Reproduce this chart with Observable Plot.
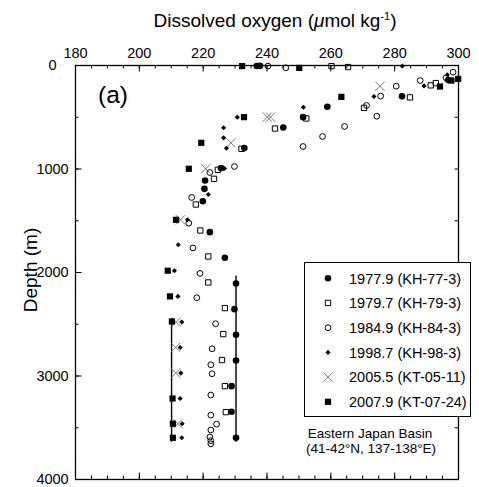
<!DOCTYPE html>
<html><head><meta charset="utf-8">
<script src="https://cdn.jsdelivr.net/npm/d3@7"></script>
<script src="https://cdn.jsdelivr.net/npm/@observablehq/plot@0.6"></script>
<style>
body{margin:0;background:#fff;}
#chart svg{display:block;}
</style></head><body><div id="chart"></div>
<script>
const FONT = '"Liberation Sans", Arial, Helvetica, sans-serif';

// ---- tick values ----
const o2Ticks = [180, 200, 220, 240, 260, 280, 300];
const o2Minor = d3.range(180, 301, 5);
const depthTicks = [0, 1000, 2000, 3000, 4000];
const depthMinor = d3.range(0, 4001, 500);

// ---- series: [O2 (umol/kg), depth (m)] ----
const kh77 = [[236.8,5],[237.8,4],[296.8,140],[282.3,298],[258.9,399],[251.3,499],[245.1,599],[232.9,798],[225.6,992],[220.6,1111],[220.4,1192],[219.9,1311],[222.1,1610],[226.8,1858],[230.3,2106],[229.8,2354],[230.3,2602],[230.3,2850],[228.9,3098],[228.9,3345],[230.3,3597]];
const kh79 = [[260.2,6],[265.4,15],[292.9,170],[291.3,192],[284.8,308],[270.4,409],[252.3,512],[242.5,609],[232,805],[224.6,1008],[223.4,1095],[217.7,1343],[219.1,1594],[221.6,1845],[221.6,2096],[226.8,2344],[226.3,2595],[225.9,2846],[226.8,3098],[227.1,3349]];
const kh84 = [[240.3,6],[245.9,22],[298.3,64],[296.1,119],[288,145],[280.5,200],[275.6,296],[271.2,386],[274.4,490],[264.3,589],[257.4,686],[251.3,783],[229.8,976],[222.1,1034],[216.4,1275],[215.5,1523],[216.8,1763],[219,2009],[218,2244],[223.9,2495],[222.8,2737],[222.4,2891],[222.8,2978],[222.4,3184],[222.4,3378],[224.2,3465],[222.4,3522],[222.1,3590],[222.4,3625],[222.4,3655]];
const kh98 = [[282.4,6],[296.5,90],[289.2,197],[273.5,300],[251.4,403],[230.7,499],[226.4,602],[226.4,699],[227.3,799],[226.7,995],[221.6,1246],[215.1,1491],[212.2,1732],[211,1983],[212.1,2231],[213.3,2479],[212.8,2724],[213,2972],[212.8,3217],[213.4,3461],[213.3,3597]];
const kt05 = [[275.4,200],[240.1,499],[241.1,499],[228.7,747],[220.8,998],[212.9,1491],[211.6,2479],[211.4,2724],[211.4,2972],[212.1,3461]];
const kt07 = [[232.2,6],[250.1,23],[299.9,129],[297.8,145],[294.2,203],[263.3,303],[232.8,499],[219.4,747],[215.5,998],[211.5,1491],[208.9,1983],[209.6,2231],[210.2,2473],[210.4,3217],[210.5,3461],[210.5,3597]];

// deep-layer mean lines
const meanO2 = [210.1, 230.3];
const meanTop = [2450, 2035];
const meanBottom = [3640, 3640];

const seriesNames = ["1977.9 (KH-77-3)", "1979.7 (KH-79-3)", "1984.9 (KH-84-3)", "1998.7 (KH-98-3)", "2005.5 (KT-05-11)", "2007.9 (KT-07-24)"];
const seriesData = [kh77, kh79, kh84, kh98, kt05, kt07];

// ---- styles ----
const styles = [
  {symbol: "circle", d3sym: d3.symbolCircle, r: 3.3, fill: "black", stroke: "none", sw: 0},
  {symbol: "square", d3sym: d3.symbolSquare, r: 3.0, fill: "none", stroke: "black", sw: 1},
  {symbol: "circle", d3sym: d3.symbolCircle, r: 2.9, fill: "none", stroke: "black", sw: 1},
  {symbol: "diamond2", d3sym: d3.symbolDiamond2, r: 2.3, fill: "black", stroke: "none", sw: 0},
  {symbol: "times", d3sym: d3.symbolTimes, r: 4.3, fill: "none", stroke: "#777", sw: 1},
  {symbol: "square", d3sym: d3.symbolSquare, r: 3.5, fill: "black", stroke: "none", sw: 0}
];
const drawOrder = [4, 2, 1, 3, 0, 5];

const W = 479, H = 487, mL = 75, mR = 21, mT = 65, mB = 8;
const pw = W - mL - mR, ph = H - mT - mB;

const means = meanO2.map((o, i) => ({o2: o, top: meanTop[i], bottom: meanBottom[i]}));

const marks = [
  Plot.ruleX(o2Minor, {x: d => d, insetBottom: ph - 3.5, strokeWidth: 1}),
  Plot.ruleX(o2Ticks, {x: d => d, insetBottom: ph - 6.5, strokeWidth: 1}),
  Plot.ruleX(o2Minor, {x: d => d, insetTop: ph - 3.5, strokeWidth: 1}),
  Plot.ruleX(o2Ticks, {x: d => d, insetTop: ph - 6.5, strokeWidth: 1}),
  Plot.ruleY(depthMinor, {y: d => d, insetRight: pw - 3.5, strokeWidth: 1}),
  Plot.ruleY(depthTicks, {y: d => d, insetRight: pw - 6.5, strokeWidth: 1}),
  Plot.ruleY(depthMinor, {y: d => d, insetLeft: pw - 3.5, strokeWidth: 1}),
  Plot.frame({stroke: "black", strokeWidth: 1.3}),
  Plot.text(o2Ticks, {x: d => d, text: d => String(d), frameAnchor: "top", dy: -7.3, lineAnchor: "bottom", fontSize: 14.5, fill: "black"}),
  Plot.text(depthTicks, {y: d => d, text: d => String(d), frameAnchor: "left", dx: -23, textAnchor: "middle", fontSize: 14.5, fill: "black"}),
  Plot.ruleX(means, {x: "o2", y1: "top", y2: "bottom", stroke: "black", strokeWidth: 1.4})
];
for (const i of drawOrder) {
  const s = styles[i];
  marks.push(Plot.dot(seriesData[i], {x: d => d[0], y: d => d[1], symbol: s.symbol, r: s.r, fill: s.fill, stroke: s.stroke, strokeWidth: s.sw}));
}

const plot = Plot.plot({
  width: W, height: H,
  marginLeft: mL, marginRight: mR, marginTop: mT, marginBottom: mB,
  x: {domain: [180, 300], axis: null},
  y: {domain: [0, 4000], reverse: true, axis: null},
  style: {fontFamily: FONT, background: "white", color: "black"},
  marks
});

const svg = d3.select(plot);
const deco = svg.append("g").attr("font-family", FONT).attr("fill", "black").attr("text-anchor", "start");

// title
const t = deco.append("text").attr("x", 275).attr("y", 27).attr("text-anchor", "middle").attr("font-size", 19);
t.append("tspan").text("Dissolved oxygen (");
t.append("tspan").attr("font-style", "italic").text("\u03bc");
t.append("tspan").text("mol kg");
t.append("tspan").attr("font-size", 11).attr("dy", -7).text("-1");
t.append("tspan").attr("dy", 7).text(")");

// y label
deco.append("text").attr("transform", "translate(30,270) rotate(-90)").attr("text-anchor", "middle")
  .attr("dominant-baseline", "central").attr("font-size", 19).text("Depth (m)");

// panel label
deco.append("text").attr("x", 98).attr("y", 103).attr("text-anchor", "start").attr("font-size", 24.5).text("(a)");

// legend
const lg = deco.append("g");
lg.append("rect").attr("x", 304.5).attr("y", 262.5).attr("width", 166).attr("height", 154)
  .attr("fill", "white").attr("stroke", "black").attr("stroke-width", 1);
seriesNames.forEach((name, i) => {
  const s = styles[i];
  const cy = 278.3 + i * 24.7;
  lg.append("path").attr("transform", `translate(328,${cy})`)
    .attr("d", d3.symbol(s.d3sym, Math.PI * s.r * s.r)())
    .attr("fill", s.fill).attr("stroke", s.stroke).attr("stroke-width", s.sw);
  lg.append("text").attr("x", 349).attr("y", cy + 5.2).attr("text-anchor", "start").attr("font-size", 14.5).text(name);
});

// region annotation
deco.append("text").attr("x", 370).attr("y", 438.3).attr("text-anchor", "middle").attr("font-size", 13.5).text("Eastern Japan Basin");
deco.append("text").attr("x", 371).attr("y", 452.8).attr("text-anchor", "middle").attr("font-size", 13.5).text("(41-42\u00b0N, 137-138\u00b0E)");

document.getElementById("chart").appendChild(plot);
</script></body></html>
